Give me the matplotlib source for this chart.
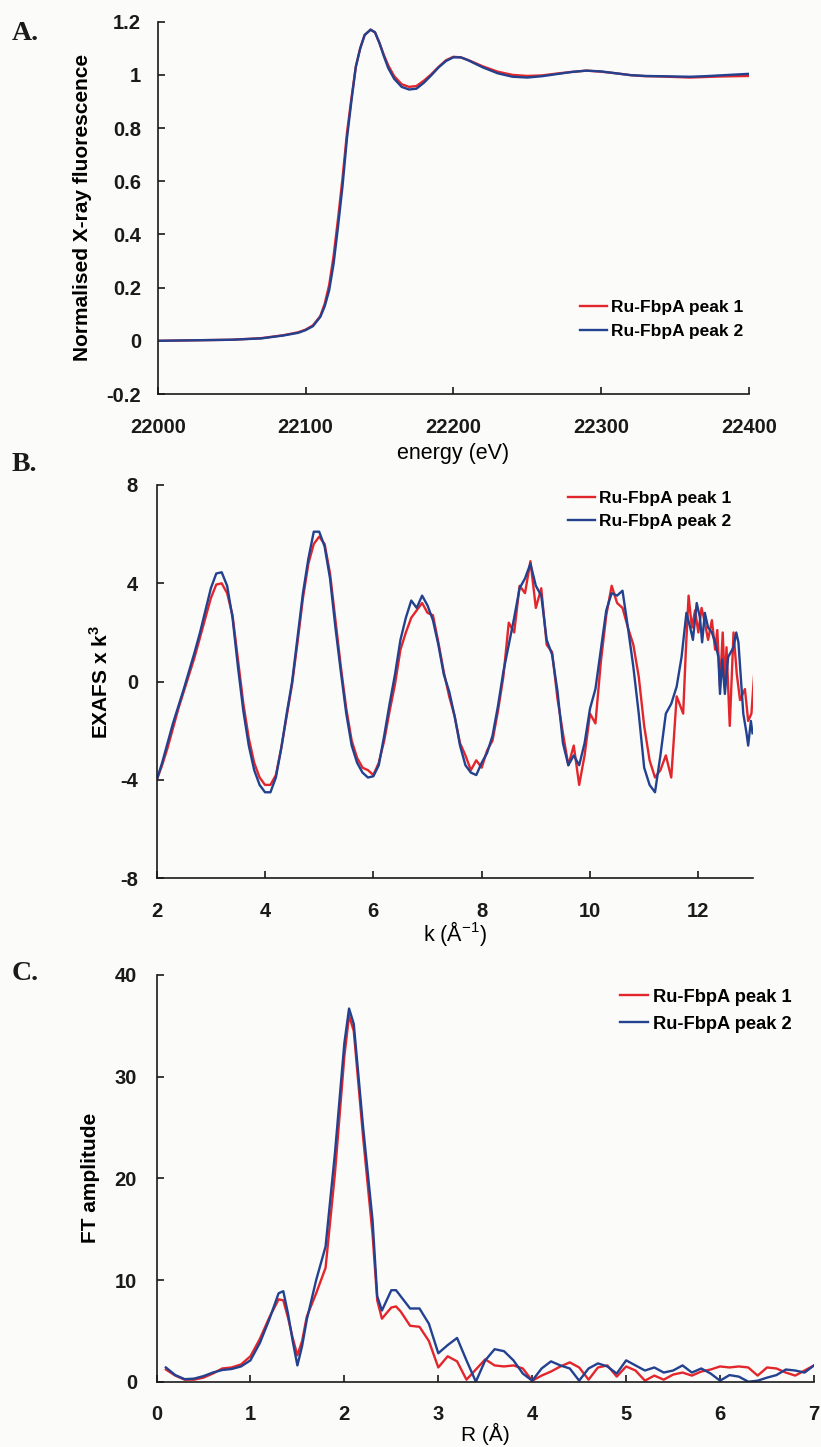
import numpy as np
import matplotlib
matplotlib.use("Agg")
import matplotlib.pyplot as plt
from matplotlib.ticker import FuncFormatter

plt.rcParams['font.family'] = ['Liberation Sans', 'DejaVu Sans']
plt.rcParams['mathtext.fontset'] = 'custom'
plt.rcParams['mathtext.rm'] = 'Liberation Sans'
plt.rcParams['mathtext.bf'] = 'Liberation Sans:bold'

#%% data
label1 = "Ru-FbpA peak 1"
label2 = "Ru-FbpA peak 2"
red = "#e3262b"
blue = "#22418f"

# A. XANES
energy = [22000, 22050, 22070, 22085, 22095, 22100, 22105, 22110, 22113, 22116,
          22119, 22122, 22125, 22128, 22131, 22134, 22137, 22140, 22144, 22147,
          22150, 22153, 22156, 22160, 22165, 22170, 22175, 22180, 22185, 22190,
          22195, 22200, 22205, 22210, 22220, 22230, 22240, 22250, 22260, 22270,
          22280, 22290, 22300, 22310, 22320, 22330, 22340, 22350, 22360, 22370,
          22380, 22390, 22400]
xanes_p1 = [0.0, 0.004, 0.01, 0.021, 0.032, 0.042, 0.058, 0.093, 0.14, 0.21,
            0.32, 0.46, 0.61, 0.78, 0.91, 1.03, 1.10, 1.15, 1.17, 1.16,
            1.12, 1.075, 1.035, 0.995, 0.965, 0.955, 0.958, 0.978, 1.002, 1.03,
            1.055, 1.068, 1.066, 1.056, 1.032, 1.012, 1.0, 0.996, 0.998, 1.005,
            1.011, 1.016, 1.012, 1.006, 0.999, 0.995, 0.994, 0.992, 0.99, 0.992,
            0.994, 0.995, 0.996]
xanes_p2 = [0.0, 0.004, 0.009, 0.02, 0.03, 0.04, 0.055, 0.09, 0.13, 0.19,
            0.29, 0.43, 0.58, 0.76, 0.90, 1.03, 1.10, 1.15, 1.17, 1.16,
            1.12, 1.07, 1.025, 0.985, 0.955, 0.945, 0.948, 0.97, 0.998, 1.028,
            1.052, 1.066, 1.066, 1.055, 1.028, 1.006, 0.993, 0.99, 0.995, 1.003,
            1.011, 1.016, 1.013, 1.006, 0.999, 0.996, 0.995, 0.994, 0.993, 0.995,
            0.998, 1.001, 1.004]

# B. EXAFS x k^3 (shared grid up to 11.6, then each scan has its own points)
k_main = [2.0, 2.1, 2.2, 2.3, 2.4, 2.5, 2.6, 2.7, 2.8, 2.9,
          3.0, 3.1, 3.2, 3.3, 3.4, 3.5, 3.6, 3.7, 3.8, 3.9,
          4.0, 4.1, 4.2, 4.3, 4.4, 4.5, 4.6, 4.7, 4.8, 4.9,
          5.0, 5.1, 5.2, 5.3, 5.4, 5.5, 5.6, 5.7, 5.8, 5.9,
          6.0, 6.1, 6.2, 6.3, 6.4, 6.5, 6.6, 6.7, 6.8, 6.9,
          7.0, 7.1, 7.2, 7.3, 7.4, 7.5, 7.6, 7.7, 7.8, 7.9,
          8.0, 8.1, 8.2, 8.3, 8.4, 8.5, 8.6, 8.7, 8.8, 8.9,
          9.0, 9.1, 9.2, 9.3, 9.4, 9.5, 9.6, 9.7, 9.8, 9.9,
          10.0, 10.1, 10.2, 10.3, 10.4, 10.5, 10.6, 10.7, 10.8, 10.9,
          11.0, 11.1, 11.2, 11.3, 11.4, 11.5, 11.6]
exafs_main_p1 = [-4.0, -3.4, -2.7, -1.9, -1.1, -0.4, 0.3, 1.0, 1.8, 2.6,
                 3.4, 3.95, 4.0, 3.6, 2.7, 0.9, -0.9, -2.3, -3.3, -3.9,
                 -4.2, -4.2, -3.8, -2.7, -1.4, -0.1, 1.6, 3.4, 4.8, 5.6,
                 5.9, 5.6, 4.4, 2.5, 0.6, -1.1, -2.4, -3.1, -3.5, -3.6,
                 -3.8, -3.3, -2.4, -1.2, -0.1, 1.3, 2.0, 2.6, 2.9, 3.2,
                 2.8, 2.7, 1.6, 0.4, -0.6, -1.4, -2.5, -3.0, -3.6, -3.2,
                 -3.5, -2.8, -2.4, -1.2, 0.2, 2.4, 2.0, 3.9, 3.6, 4.9,
                 3.0, 3.8, 1.5, 1.2, -0.7, -2.1, -3.4, -2.6, -4.2, -3.0,
                 -1.3, -1.7, 0.8, 2.7, 3.9, 3.2, 3.0, 2.2, 1.5, 0.2,
                 -1.8, -3.2, -3.9, -3.6, -3.0, -3.9, -0.6]
exafs_main_p2 = [-4.0, -3.3, -2.5, -1.7, -1.0, -0.3, 0.45, 1.2, 2.0, 2.9,
                 3.8, 4.4, 4.45, 3.9, 2.6, 0.6, -1.2, -2.6, -3.6, -4.2,
                 -4.5, -4.5, -3.9, -2.7, -1.3, 0.0, 1.8, 3.6, 5.0, 6.1,
                 6.1, 5.5, 4.2, 2.2, 0.4, -1.3, -2.6, -3.3, -3.7, -3.9,
                 -3.85, -3.4, -2.2, -0.9, 0.3, 1.7, 2.6, 3.3, 3.0, 3.5,
                 3.1, 2.5, 1.5, 0.3, -0.4, -1.4, -2.6, -3.4, -3.7, -3.8,
                 -3.3, -2.9, -2.2, -1.0, 0.4, 1.5, 2.6, 3.8, 4.2, 4.8,
                 3.9, 3.5, 1.7, 1.1, -0.4, -2.5, -3.4, -3.0, -3.4, -2.5,
                 -1.1, -0.3, 1.3, 2.9, 3.6, 3.5, 3.7, 2.2, 0.6, -1.3,
                 -3.5, -4.2, -4.5, -3.0, -1.3, -0.9, -0.2]
k_tail_p1 = [11.72, 11.77, 11.82, 11.88, 11.94, 12.0, 12.06, 12.12, 12.18, 12.25,
             12.31, 12.35, 12.4, 12.45, 12.49, 12.52, 12.58, 12.65, 12.71, 12.77,
             12.86, 12.92, 12.98, 13.04]
exafs_tail_p1 = [-1.3, 1.3, 3.5, 2.2, 2.9, 2.0, 3.0, 2.4, 1.7, 2.5,
                 1.3, 2.1, -0.2, 2.0, -0.2, 1.4, -1.8, 2.0, 0.3, -0.75,
                 -0.3, -1.6, -1.3, 0.6]
k_tail_p2 = [11.69, 11.78, 11.85, 11.9, 11.97, 12.03, 12.07, 12.12, 12.18, 12.25,
             12.31, 12.37, 12.4, 12.44, 12.49, 12.55, 12.65, 12.7, 12.74, 12.83,
             12.89, 12.92, 12.97, 13.0]
exafs_tail_p2 = [1.0, 2.8, 2.2, 1.7, 3.2, 2.6, 1.6, 2.8, 2.2, 2.0,
                 1.6, 1.0, -0.5, 0.9, -0.5, 1.0, 1.4, 2.0, 1.6, -1.3,
                 -2.1, -2.6, -1.6, -2.1]

# C. Fourier transform
r = [0.1, 0.2, 0.3, 0.4, 0.5, 0.6, 0.7, 0.8, 0.9, 1.0,
     1.1, 1.2, 1.3, 1.35, 1.4, 1.45, 1.5, 1.55, 1.6, 1.7,
     1.8, 1.9, 2.0, 2.05, 2.1, 2.2, 2.3, 2.35, 2.4, 2.5,
     2.55, 2.6, 2.7, 2.8, 2.9, 3.0, 3.1, 3.2, 3.3, 3.4,
     3.5, 3.6, 3.7, 3.8, 3.9, 4.0, 4.1, 4.2, 4.3, 4.4,
     4.5, 4.6, 4.7, 4.8, 4.9, 5.0, 5.1, 5.2, 5.3, 5.4,
     5.5, 5.6, 5.7, 5.8, 5.9, 6.0, 6.1, 6.2, 6.3, 6.4,
     6.5, 6.6, 6.7, 6.8, 6.9, 7.0]
ft_p1 = [1.2, 0.6, 0.2, 0.2, 0.4, 0.8, 1.3, 1.4, 1.7, 2.5,
         4.2, 6.3, 8.1, 8.0, 6.3, 4.3, 2.6, 4.0, 6.4, 8.7,
         11.2, 20.5, 32.0, 36.0, 34.5, 24.0, 14.5, 8.0, 6.2, 7.3,
         7.4, 6.9, 5.5, 5.4, 4.0, 1.4, 2.5, 2.0, 0.2, 1.2,
         2.2, 1.6, 1.5, 1.6, 1.3, 0.1, 0.6, 1.0, 1.5, 1.9,
         1.4, 0.2, 1.4, 1.6, 0.5, 1.5, 1.1, 0.1, 0.6, 0.2,
         0.7, 0.9, 0.6, 1.0, 1.2, 1.5, 1.4, 1.5, 1.4, 0.6,
         1.4, 1.3, 0.9, 0.6, 1.1, 1.6]
ft_p2 = [1.4, 0.65, 0.25, 0.3, 0.55, 0.9, 1.15, 1.25, 1.5, 2.1,
         3.8, 6.1, 8.7, 8.9, 6.7, 4.0, 1.6, 3.5, 6.1, 10.0,
         13.3, 22.5, 33.3, 36.7, 35.2, 25.0, 15.9, 8.4, 7.0, 9.0,
         9.0, 8.4, 7.2, 7.2, 5.7, 2.8, 3.6, 4.3, 2.1, 0.0,
         2.1, 3.2, 3.0, 2.1, 0.8, 0.1, 1.3, 2.0, 1.6, 1.3,
         0.1, 1.3, 1.8, 1.5, 0.8, 2.1, 1.6, 1.1, 1.4, 0.9,
         1.1, 1.6, 0.9, 1.3, 0.8, 0.1, 0.65, 0.5, 0.0, 0.1,
         0.4, 0.65, 1.2, 1.1, 0.9, 1.6]

#%% figure
W, H = 821, 1447
fig = plt.figure(figsize=(W / 100, H / 100), dpi=100, facecolor="#fbfbfa")


def px_axes(left, top, right, bottom):
    return fig.add_axes([left / W, 1 - bottom / H, (right - left) / W, (bottom - top) / H])


def style(ax, ypad):
    ax.set_facecolor("none")
    for s in ["top", "right"]:
        ax.spines[s].set_visible(False)
    for s in ["left", "bottom"]:
        ax.spines[s].set_linewidth(1.2)
        ax.spines[s].set_color("#1a1a1a")
    ax.tick_params(direction="in", length=5, width=1.2, color="#1a1a1a",
                   labelsize=14.5, labelcolor="#1a1a1a")
    ax.tick_params(axis="x", pad=17)
    ax.tick_params(axis="y", pad=ypad)
    for t in ax.get_xticklabels() + ax.get_yticklabels():
        t.set_fontweight("bold")
    ax.xaxis.set_major_formatter(FuncFormatter(lambda v, p: "%g" % v))
    ax.yaxis.set_major_formatter(FuncFormatter(lambda v, p: "%g" % round(v, 2)))


lw = 1.7
leg_kw = dict(frameon=False, borderpad=0, borderaxespad=0, handletextpad=0.25,
              prop={"weight": "bold", "size": 12.5}, handlelength=1.55)

# A
axA = px_axes(157.7, 21.7, 749, 394)
axA.plot(energy, xanes_p1, color=red, lw=lw, label=label1)
axA.plot(energy, xanes_p2, color=blue, lw=lw, label=label2)
axA.set_xlim(22000, 22400)
axA.set_ylim(-0.2, 1.2)
axA.set_xticks([22000, 22100, 22200, 22300, 22400])
axA.set_yticks(np.arange(-0.2, 1.21, 0.2))
style(axA, 12)
axA.set_ylabel("Normalised X-ray fluorescence", fontsize=15, fontweight="bold", va="center")
axA.yaxis.set_label_coords(-0.127, 0.5)
axA.set_xlabel("energy (eV)", fontsize=15.5, va="center")
axA.xaxis.set_label_coords(0.5, -0.161)
axA.legend(loc="center left", bbox_to_anchor=(0.714, 0.201), labelspacing=0.5, **leg_kw)

# B
axB = px_axes(156.7, 485, 752.5, 878.3)
axB.plot(k_main + k_tail_p1, exafs_main_p1 + exafs_tail_p1, color=red, lw=lw, label=label1)
axB.plot(k_main + k_tail_p2, exafs_main_p2 + exafs_tail_p2, color=blue, lw=lw, label=label2)
axB.set_xlim(2, 13)
axB.set_ylim(-8, 8)
axB.set_xticks([2, 4, 6, 8, 10, 12])
axB.set_yticks([-8, -4, 0, 4, 8])
style(axB, 13.5)
axB.set_ylabel(r"EXAFS x k$^{\mathbf{3}}$", fontsize=15, fontweight="bold", va="center")
axB.yaxis.set_label_coords(-0.095, 0.5)
axB.set_xlabel(r"k (Å$^{\mathrm{-1}}$)", fontsize=15.5, va="center")
axB.xaxis.set_label_coords(0.5, -0.14)
axB.legend(loc="center left", bbox_to_anchor=(0.690, 0.936), labelspacing=0.45, **leg_kw)

# C
axC = px_axes(156.5, 975, 814, 1381.7)
axC.plot(r, ft_p1, color=red, lw=lw, label=label1)
axC.plot(r, ft_p2, color=blue, lw=lw, label=label2)
axC.set_xlim(0, 7)
axC.set_ylim(0, 40)
axC.set_xticks(range(0, 8))
axC.set_yticks([0, 10, 20, 30, 40])
style(axC, 14)
axC.set_ylabel("FT amplitude", fontsize=15, fontweight="bold", va="center")
axC.yaxis.set_label_coords(-0.101, 0.5)
axC.set_xlabel("R (Å)", fontsize=15, va="center")
axC.xaxis.set_label_coords(0.5, -0.128)
legC = dict(leg_kw)
legC["prop"] = {"weight": "bold", "size": 13.2}
axC.legend(loc="center left", bbox_to_anchor=(0.705, 0.912), labelspacing=0.55, **legC)

# panel letters
for txt, y in [("A.", 34), ("B.", 465), ("C.", 973)]:
    fig.text(12 / W, 1 - y / H, txt, family=["Liberation Serif", "DejaVu Serif"],
             fontsize=20, fontweight="bold", ha="left", va="center", color="#1a1a1a")

fig.savefig("out.png", dpi=100, facecolor=fig.get_facecolor())
